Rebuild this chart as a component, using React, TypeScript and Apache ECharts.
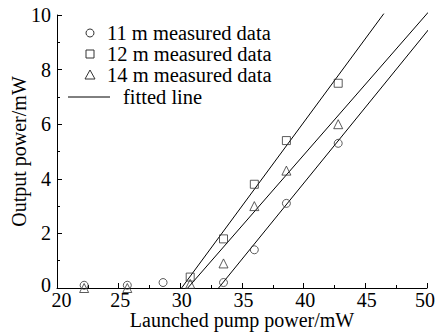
import React, { useEffect, useRef } from "react";
import * as echarts from "echarts";

const pumpPower11 = [22.2, 25.7, 28.6, 33.5, 36.0, 38.6, 42.8];
const output11 = [0.1, 0.1, 0.2, 0.2, 1.4, 3.1, 5.3];
const pumpPower12 = [30.8, 33.5, 36.0, 38.6, 42.8];
const output12 = [0.4, 1.8, 3.8, 5.4, 7.5];
const pumpPower14 = [22.2, 25.7, 30.8, 33.5, 36.0, 38.6, 42.8];
const output14 = [0.0, 0.0, 0.15, 0.9, 3.0, 4.3, 6.0];
const fit11 = [[33.1, 0], [50.1, 9.45]];
const fit12 = [[30.1, 0], [46.5, 10.05]];
const fit14 = [[30.6, 0], [50.1, 10.1]];
const xTicks = [20, 50, 5];
const yTicks = [0, 10, 2];
const legendLabels = ["11 m measured data", "12 m measured data", "14 m measured data", "fitted line"];

const FONT = "'Liberation Serif', 'Times New Roman', serif";
const INK = "#000";
const MARK = "#333";

function zip(xs: number[], ys: number[]) {
  return xs.map((x, i) => [x, ys[i]]);
}

export default function App() {
  const ref = useRef<HTMLDivElement>(null);
  useEffect(() => {
    if (!ref.current) return;
    const chart = echarts.init(ref.current, undefined, { renderer: "svg" });
    const markerStyle = { color: "transparent", borderColor: MARK, borderWidth: 1 };
    const lineSeries = (data: number[][]) => ({
      type: "line",
      data,
      showSymbol: false,
      symbol: "none",
      clip: false,
      lineStyle: { color: INK, width: 1 },
      silent: true,
      z: 1,
    });
    const lx = 90;
    const tx = 107;
    const rows = [33, 54, 75, 97];
    const lbl = { fontFamily: FONT, fontSize: 20, color: INK };
    chart.setOption({
      animation: false,
      backgroundColor: "#fff",
      grid: { left: 57, right: 8, top: 15, bottom: 46, containLabel: false, outerBoundsMode: "none" },
      xAxis: {
        type: "value",
        min: xTicks[0],
        max: xTicks[1],
        interval: xTicks[2],
        name: "Launched pump power/mW",
        nameLocation: "middle",
        nameGap: 22,
        nameMoveOverlap: false,
        nameTextStyle: { ...lbl, lineHeight: 20, verticalAlign: "top" },
        axisLine: { lineStyle: { color: INK, width: 1 } },
        axisTick: { inside: true, length: 5, lineStyle: { color: INK } },
        minorTick: { show: true, splitNumber: 2, length: 3, lineStyle: { color: INK } },
        axisLabel: {
          ...lbl,
          lineHeight: 14,
          margin: 5,
          formatter: (v: number) =>
            v === xTicks[1] ? `{e|${v}}` : v === xTicks[0] ? `{s|${v}}` : `{m|${v}}`,
          rich: {
            e: { ...lbl, lineHeight: 14, padding: [0, 4, 0, 0] },
            s: { ...lbl, lineHeight: 14, padding: [0, 0, 0, 9] },
            m: { ...lbl, lineHeight: 14, padding: [0, 0, 0, 3] },
          },
        },
        splitLine: { show: false },
      },
      yAxis: {
        type: "value",
        min: yTicks[0],
        max: yTicks[1],
        interval: yTicks[2],
        name: "Output power/mW",
        nameLocation: "middle",
        nameGap: 28,
        nameMoveOverlap: false,
        nameTextStyle: lbl,
        axisLine: { show: true, lineStyle: { color: INK, width: 1 } },
        axisTick: { show: true, inside: true, length: 5, lineStyle: { color: INK } },
        minorTick: { show: true, splitNumber: 2, length: 3, lineStyle: { color: INK } },
        axisLabel: {
          ...lbl,
          lineHeight: 12,
          margin: 6,
          formatter: (v: number) => (v === yTicks[0] ? `{z|${v}}` : String(v)),
          rich: { z: { ...lbl, lineHeight: 12, padding: [0, 0, 6, 0] } },
        },
        splitLine: { show: false },
      },
      series: [
        {
          name: legendLabels[0],
          type: "scatter",
          data: zip(pumpPower11, output11),
          symbol: "circle",
          symbolSize: 8,
          itemStyle: markerStyle,
          z: 3,
        },
        {
          name: legendLabels[1],
          type: "scatter",
          data: zip(pumpPower12, output12),
          symbol: "rect",
          symbolSize: 8,
          itemStyle: markerStyle,
          z: 3,
        },
        {
          name: legendLabels[2],
          type: "scatter",
          data: zip(pumpPower14, output14),
          symbol: "triangle",
          symbolSize: 9,
          itemStyle: markerStyle,
          z: 3,
        },
        lineSeries(fit11),
        lineSeries(fit12),
        lineSeries(fit14),
      ],
      graphic: [
        { type: "circle", shape: { cx: lx, cy: rows[0], r: 4 }, style: { fill: "none", stroke: MARK, lineWidth: 1 } },
        { type: "rect", shape: { x: lx - 4, y: rows[1] - 4, width: 8, height: 8 }, style: { fill: "none", stroke: MARK, lineWidth: 1 } },
        { type: "polygon", shape: { points: [[lx, rows[2] - 5], [lx - 5, rows[2] + 4], [lx + 5, rows[2] + 4]] }, style: { fill: "none", stroke: MARK, lineWidth: 1 } },
        { type: "line", shape: { x1: 68, y1: rows[3], x2: 110, y2: rows[3] }, style: { stroke: INK, lineWidth: 1 } },
        ...legendLabels.map((t, i) => ({
          type: "text",
          x: i === 3 ? 123 : tx,
          y: rows[i],
          style: { text: t, font: `20.5px ${FONT}`, fill: INK, textVerticalAlign: "middle" },
        })),
      ],
    });
    return () => chart.dispose();
  }, []);
  return <div ref={ref} style={{ width: 435, height: 334, position: "absolute", left: 0, top: 0 }} />;
}
